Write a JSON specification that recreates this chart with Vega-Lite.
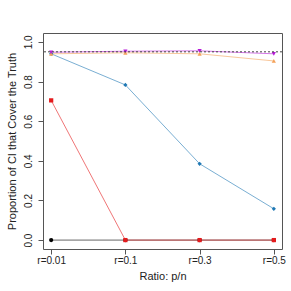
{
  "$schema": "https://vega.github.io/schema/vega-lite/v6.json",
  "autosize": {"type": "none"},
  "width": 239,
  "height": 216,
  "padding": {"left": 43, "top": 33, "right": 9, "bottom": 42},
  "background": "white",
  "config": {
    "view": {"stroke": "#555", "strokeWidth": 1},
    "font": "Liberation Sans",
    "axis": {"grid": false, "domain": false, "tickColor": "#555", "tickSize": 5, "labelColor": "#222", "titleColor": "#222", "labelFontSize": 10, "titleFontSize": 11, "titleFontWeight": "normal", "labelFont": "Liberation Sans", "titleFont": "Liberation Sans"}
  },
  "data": {"values": [
    {"s": "S1", "r": "r=0.01", "v": 0},
    {"s": "S1", "r": "r=0.1", "v": 0},
    {"s": "S1", "r": "r=0.3", "v": 0},
    {"s": "S1", "r": "r=0.5", "v": 0},
    {"s": "S2", "r": "r=0.01", "v": 0.705},
    {"s": "S2", "r": "r=0.1", "v": 0},
    {"s": "S2", "r": "r=0.3", "v": 0},
    {"s": "S2", "r": "r=0.5", "v": 0},
    {"s": "S3", "r": "r=0.01", "v": 0.94},
    {"s": "S3", "r": "r=0.1", "v": 0.783},
    {"s": "S3", "r": "r=0.3", "v": 0.385},
    {"s": "S3", "r": "r=0.5", "v": 0.158},
    {"s": "S4", "r": "r=0.01", "v": 0.94},
    {"s": "S4", "r": "r=0.1", "v": 0.945},
    {"s": "S4", "r": "r=0.3", "v": 0.94},
    {"s": "S4", "r": "r=0.5", "v": 0.904},
    {"s": "S5", "r": "r=0.01", "v": 0.948},
    {"s": "S5", "r": "r=0.1", "v": 0.953},
    {"s": "S5", "r": "r=0.3", "v": 0.955},
    {"s": "S5", "r": "r=0.5", "v": 0.94}
  ]},
  "encoding": {
    "x": {"field": "r", "type": "ordinal", "scale": {"type": "point", "domain": ["r=0.01", "r=0.1", "r=0.3", "r=0.5"], "padding": 0.11},
      "axis": {"title": "Ratio: p/n", "labelAngle": 0, "labelPadding": 1, "titlePadding": 5}},
    "y": {"field": "v", "type": "quantitative", "scale": {"domain": [-0.045, 1.045], "nice": false, "zero": false},
      "axis": {"title": "Proportion of CI that Cover the Truth", "values": [0, 0.2, 0.4, 0.6, 0.8, 1.0], "format": ".1f", "labelAngle": -90, "labelAlign": "center", "labelBaseline": "bottom", "labelPadding": 5, "titlePadding": 6}},
    "color": {"field": "s", "type": "nominal", "legend": null,
      "scale": {"domain": ["S1", "S2", "S3", "S4", "S5"], "range": ["#000000", "#E41A1C", "#1F78B4", "#F4A25A", "#B71BD8"]}}
  },
  "layer": [
    {"mark": {"type": "line", "strokeWidth": 1, "opacity": 0.6}},
    {"mark": {"type": "point", "filled": true, "opacity": 1, "size": 18},
      "encoding": {"shape": {"field": "s", "type": "nominal", "legend": null,
        "scale": {"domain": ["S1", "S2", "S3", "S4", "S5"], "range": ["circle", "square", "diamond", "triangle-up", "triangle-down"]}}}},
    {"data": {"values": [{"h": 0.95}]},
      "mark": {"type": "rule", "color": "#444", "strokeDash": [2, 2], "strokeWidth": 1},
      "encoding": {"y": {"field": "h", "type": "quantitative"}, "x": null, "color": null}}
  ]
}
